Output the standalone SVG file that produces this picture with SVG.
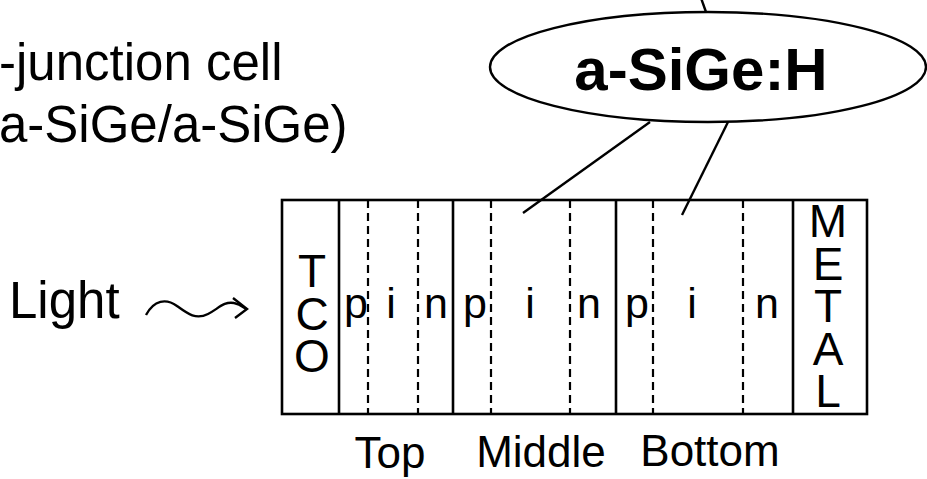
<svg xmlns="http://www.w3.org/2000/svg" width="927" height="479" viewBox="0 0 927 479">
<style>
text{font-family:"Liberation Sans",Arial,Helvetica,sans-serif;fill:#000}
.t51{font-size:51px}
.lay{font-size:43px;text-anchor:middle}
.vert{font-size:46px;writing-mode:vertical-rl;text-orientation:upright;letter-spacing:-9.5px}
.lbl{font-size:44px;text-anchor:middle}
.solid{stroke:#000;stroke-width:2.6;fill:none}
.dash{stroke:#000;stroke-width:2.2;stroke-dasharray:8 5;fill:none}
.conn{stroke:#000;stroke-width:2.4;fill:none}
</style>
<rect width="927" height="479" fill="#fff"/>
<g id="title">
<text class="t51" x="-1" y="80">-junction cell</text>
<text class="t51" x="-1" y="142">a-SiGe/a-SiGe)</text>
</g>
<g id="material">
<ellipse cx="708" cy="67" rx="218" ry="55" fill="#fff" stroke="#000" stroke-width="2.4"/>
<text x="701" y="90" font-size="60" font-weight="bold" text-anchor="middle">a-SiGe:H</text>
</g>
<g id="light">
<text class="t51" x="9" y="318">Light</text>
<path d="M146,315 C154,300 166,298 177,306 C188,314 196,320 208,314 C218,309 224,301 234,303 C240,304 243,307 246,309" class="conn"/>
<path d="M233,298 L247,309 L235,318" class="conn"/>
</g>
<g id="cell">
<rect x="282" y="200" width="585" height="214" class="solid" stroke-width="3"/>
<g id="tco">
<line x1="339" y1="200" x2="339" y2="414" class="solid"/>
<text class="vert" x="312" y="245">TCO</text>
</g>
<g id="top-junction">
<line x1="368" y1="200" x2="368" y2="414" class="dash"/>
<line x1="418" y1="200" x2="418" y2="414" class="dash"/>
<line x1="453" y1="200" x2="453" y2="414" class="solid"/>
<text class="lay" x="356" y="318">p</text>
<text class="lay" x="391" y="318">i</text>
<text class="lay" x="436" y="318">n</text>
</g>
<g id="middle-junction">
<line x1="491" y1="200" x2="491" y2="414" class="dash"/>
<line x1="570" y1="200" x2="570" y2="414" class="dash"/>
<line x1="616" y1="200" x2="616" y2="414" class="solid"/>
<text class="lay" x="475" y="318">p</text>
<text class="lay" x="530" y="318">i</text>
<text class="lay" x="589" y="318">n</text>
</g>
<g id="bottom-junction">
<line x1="653" y1="200" x2="653" y2="414" class="dash"/>
<line x1="743" y1="200" x2="743" y2="414" class="dash"/>
<line x1="793" y1="200" x2="793" y2="414" class="solid"/>
<text class="lay" x="637" y="318">p</text>
<text class="lay" x="692" y="318">i</text>
<text class="lay" x="767" y="318">n</text>
</g>
<g id="metal">
<text class="vert" x="828" y="195">METAL</text>
</g>
</g>
<g id="labels">
<text class="lbl" x="390" y="468">Top</text>
<text class="lbl" x="541" y="467">Middle</text>
<text class="lbl" x="710" y="466">Bottom</text>
</g>
<g id="connectors">
<line x1="701" y1="-2" x2="706" y2="12" class="conn"/>
<line x1="650" y1="122" x2="523" y2="213" class="conn"/>
<line x1="728" y1="122" x2="682" y2="215" class="conn"/>
</g>
</svg>
